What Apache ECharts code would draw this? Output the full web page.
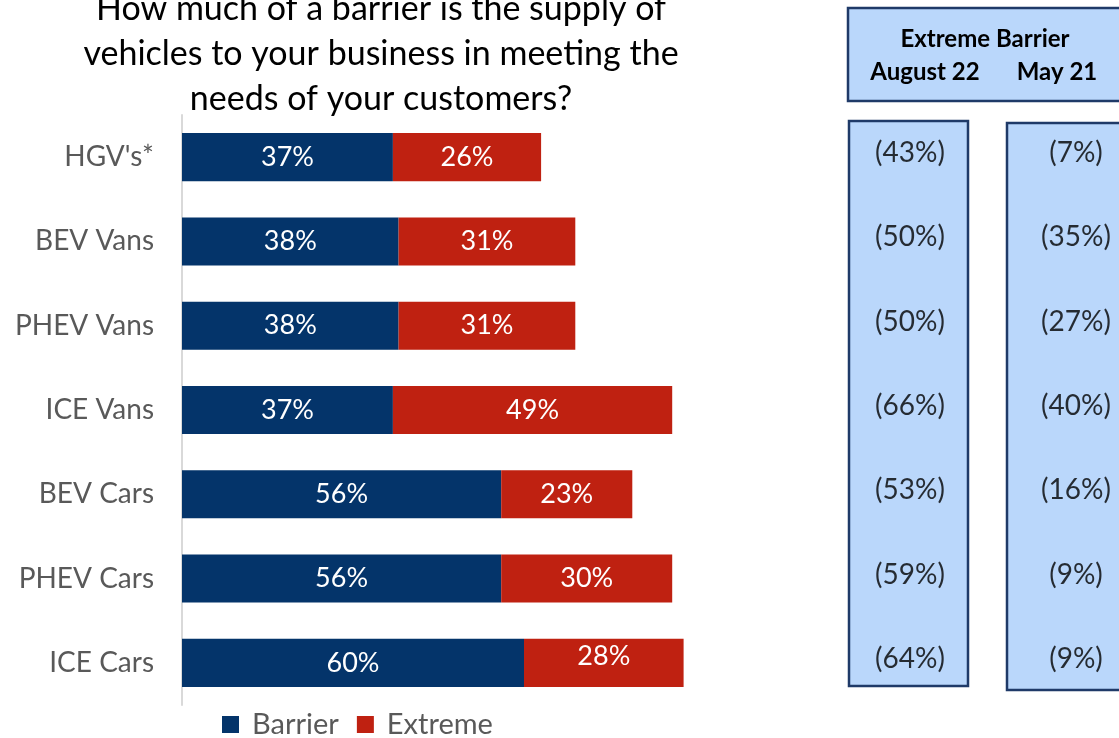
<!DOCTYPE html>
<html>
<head>
<meta charset="utf-8">
<script src="https://cdn.jsdelivr.net/npm/echarts@6/dist/echarts.min.js"></script>
<style>
  html, body { margin: 0; padding: 0; background: #fff; }
  #chart { width: 1119px; height: 738px; }
</style>
</head>
<body>
<div id="chart"></div>
<script>
var categories = ["HGV's*", "BEV Vans", "PHEV Vans", "ICE Vans", "BEV Cars", "PHEV Cars", "ICE Cars"];
var barrier = [37, 38, 38, 37, 56, 56, 60];
var extreme = [26, 31, 31, 49, 23, 30, 28];
var periods = ["August 22", "May 21"];
var aug22 = [43, 50, 50, 66, 53, 59, 64];
var may21 = [7, 35, 27, 40, 16, 9, 9];

var font = "Lato";
var navy = "#04346a";
var red = "#bf2111";
var panelFill = "#bad7fb";
var panelLine = "#1f3a68";

var myChart = echarts.init(document.getElementById("chart"));

function colData(vals, col) {
  return vals.map(function (v, i) {
    return [periods[col], categories[i], v];
  });
}

// the ICE Cars "Extreme" label sits a bit high in the original
var extremeData = extreme.map(function (v, i) {
  if (i === categories.length - 1) return { value: v, label: { offset: [0, -7] } };
  return v;
});

var barLabel = {
  show: true,
  position: "inside",
  formatter: "{c}%",
  fontFamily: font,
  fontSize: 27,
  color: "#fff"
};

var boxLabel = {
  show: true,
  position: "inside",
  offset: [0, -4],
  fontFamily: font,
  fontSize: 28,
  color: "#000",
  formatter: function (p) { return "(" + p.value[2] + "%)"; }
};

var option = {
  animation: false,
  textStyle: { fontFamily: font },
  title: {
    text: "How much of a barrier is the supply of\nvehicles to your business in meeting the\nneeds of your customers?",
    left: 376,
    textAlign: "center",
    top: -18,
    textStyle: { fontFamily: font, fontSize: 34, fontWeight: "normal", color: "#000", lineHeight: 45 }
  },
  legend: {
    bottom: -6,
    left: 217,
    itemWidth: 17,
    itemHeight: 17,
    itemGap: 18,
    icon: "rect",
    textStyle: { fontFamily: font, fontSize: 29, color: "#595959", padding: [0, 0, 0, 8] },
    data: ["Barrier", "Extreme"]
  },
  grid: [
    { left: 182, width: 570, top: 115, bottom: 33 },
    { left: 910, width: 166, top: 115, bottom: 33 }
  ],
  xAxis: [
    { type: "value", gridIndex: 0, min: 0, max: 100, show: false },
    { type: "category", gridIndex: 1, data: periods, boundaryGap: false, show: false }
  ],
  yAxis: [
    {
      type: "category",
      gridIndex: 0,
      data: categories,
      inverse: true,
      axisTick: { show: false },
      axisLine: { lineStyle: { color: "#d9d9d9", width: 2 } },
      axisLabel: { fontFamily: font, fontSize: 28, color: "#595959", margin: 28 }
    },
    { type: "category", gridIndex: 1, data: categories, inverse: true, show: false }
  ],
  series: [
    {
      name: "Barrier",
      type: "bar",
      stack: "a",
      barWidth: "57%",
      itemStyle: { color: navy },
      label: barLabel,
      data: barrier
    },
    {
      name: "Extreme",
      type: "bar",
      stack: "a",
      barWidth: "57%",
      itemStyle: { color: red },
      label: barLabel,
      data: extremeData
    },
    {
      type: "scatter",
      xAxisIndex: 1,
      yAxisIndex: 1,
      symbolSize: 0,
      label: boxLabel,
      data: colData(aug22, 0)
    },
    {
      type: "scatter",
      xAxisIndex: 1,
      yAxisIndex: 1,
      symbolSize: 0,
      label: boxLabel,
      data: colData(may21, 1)
    }
  ],
  graphic: [
    {
      type: "rect", z: -1,
      shape: { x: 848, y: 8, width: 290, height: 93 },
      style: { fill: panelFill, stroke: panelLine, lineWidth: 2.5 }
    },
    {
      type: "rect", z: -1,
      shape: { x: 849, y: 121, width: 119, height: 565 },
      style: { fill: panelFill, stroke: panelLine, lineWidth: 2.5 }
    },
    {
      type: "rect", z: -1,
      shape: { x: 1007, y: 123, width: 130, height: 567 },
      style: { fill: panelFill, stroke: panelLine, lineWidth: 2.5 }
    },
    {
      type: "text", x: 985, y: 39,
      style: { text: "Extreme Barrier", fontFamily: font, fontSize: 24, fontWeight: "bold", fill: "#000", align: "center", verticalAlign: "middle" }
    },
    {
      type: "text", x: 925, y: 72,
      style: { text: periods[0], fontFamily: font, fontSize: 24, fontWeight: "bold", fill: "#000", align: "center", verticalAlign: "middle" }
    },
    {
      type: "text", x: 1057, y: 72,
      style: { text: periods[1], fontFamily: font, fontSize: 24, fontWeight: "bold", fill: "#000", align: "center", verticalAlign: "middle" }
    }
  ]
};

myChart.setOption(option);
</script>
</body>
</html>
